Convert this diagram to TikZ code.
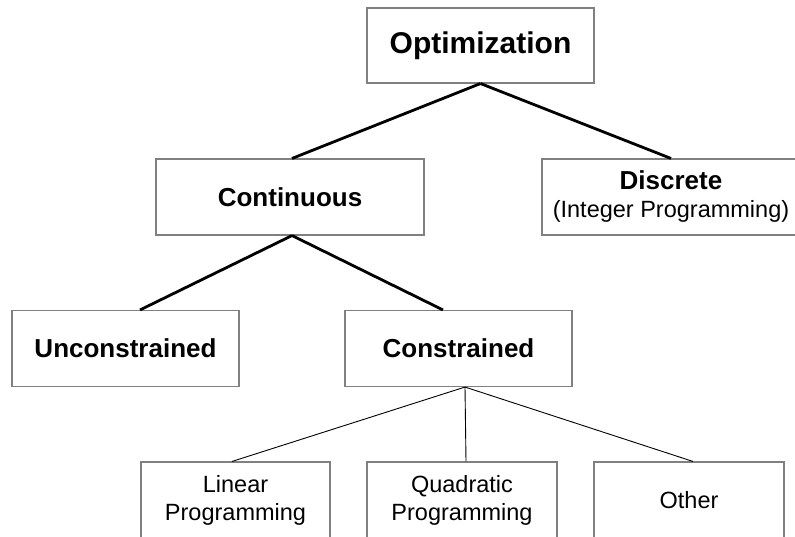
\documentclass[tikz,border=0pt]{standalone}
\usepackage{fontspec}
\setmainfont{Liberation Sans}
\usetikzlibrary{positioning}
\definecolor{boxgray}{gray}{0.5}
\tikzset{
        treenode/.style={align=center,inner sep=0pt, draw=boxgray, line width=1.1pt, fill=white},
        % Root box
        node_root/.style={treenode, font=\fontsize{30}{36}\selectfont\bfseries, minimum width=227pt, minimum height=75pt},
        % Bold boxes of the middle levels
        node_mid/.style={treenode, font=\fontsize{26}{28}\selectfont\bfseries, minimum height=76pt},
        % Discrete box, two lines
        node_two/.style={treenode, font=\fontsize{23.5}{28}\selectfont, minimum height=76pt},
        % Boxes of the last level
        node_leaf/.style={treenode, font=\fontsize{23.5}{28}\selectfont, minimum width=190pt, minimum height=76pt},
        % Connectors
        edge_thick/.style={line width=2.8pt, black},
        edge_thin/.style={line width=0.9pt, black}
}
\begin{document}
\begin{tikzpicture}[x=1pt, y=-1pt]
            \path[use as bounding box, clip] (0,0) rectangle (795,537);
            \node[node_root] (opt) at (480.5,45.5) {Optimization};
            \node[node_mid, minimum width=268pt] (cont) at (290,197) {Continuous};
            \node[node_two, minimum width=258pt] (disc) at (671,197)
                {{\fontsize{26}{28}\selectfont\bfseries Discrete}\\(Integer Programming)};
            \node[node_mid, minimum width=227pt] (uncon) at (125.5,348.5) {Unconstrained};
            \node[node_mid, minimum width=227pt] (cons) at (458.5,348.5) {Constrained};
            \node[node_leaf, minimum width=189pt] (lin) at (235.5,500) {Linear\\Programming};
            \node[node_leaf] (quad) at (462,500) {Quadratic\\Programming};
            \node[node_leaf] (oth) at (689,500) {Other};
            % thick connectors
            \draw[edge_thick] (opt.south) -- ([xshift=2pt]cont.north);
            \draw[edge_thick] (opt.south) -- (disc.north);
            \draw[edge_thick] ([xshift=2pt]cont.south) -- ([xshift=14.5pt]uncon.north);
            \draw[edge_thick] ([xshift=2pt]cont.south) -- ([xshift=-15.5pt]cons.north);
            % thin connectors
            \draw[edge_thin] ([xshift=6.5pt]cons.south) -- ([xshift=-3.5pt]lin.north);
            \draw[edge_thin] ([xshift=6.5pt]cons.south) -- ([xshift=4pt]quad.north);
            \draw[edge_thin] ([xshift=6.5pt]cons.south) -- ([xshift=4pt]oth.north);
\end{tikzpicture}
\end{document}
